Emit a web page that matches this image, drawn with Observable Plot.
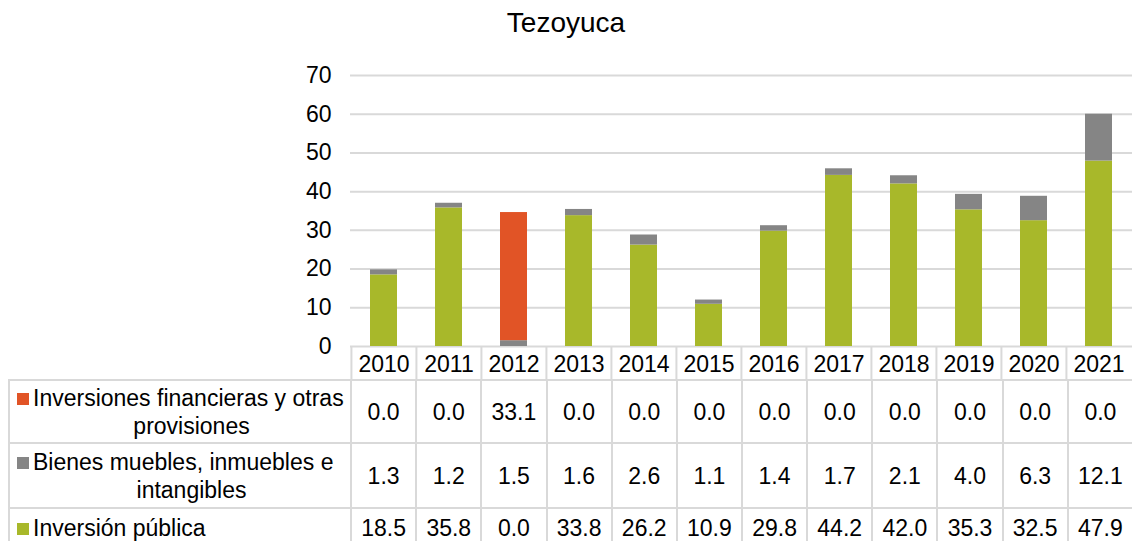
<!DOCTYPE html>
<html>
<head>
<meta charset="utf-8">
<script src="https://cdn.jsdelivr.net/npm/d3@7"></script>
<script src="https://cdn.jsdelivr.net/npm/@observablehq/plot@0.6"></script>
<style>
  html, body { margin: 0; padding: 0; background: #fff; }
  body { width: 1132px; height: 541px; overflow: hidden; position: relative;
         font-family: "Liberation Sans", Arial, sans-serif; color: #000; }
  #title { height: 36px; padding-top: 9px; font-size: 28px; line-height: 28px; text-align: center; }
  #chart { position: absolute; left: 0; top: 45px; }
  #tbl { position: absolute; left: 8px; top: 379px; border-collapse: collapse; table-layout: fixed;
         font-size: 23px; line-height: 28px; }
  #tbl td { border: 2px solid #d9d9d9; padding: 0; text-align: center; vertical-align: middle; white-space: nowrap; overflow: hidden; }
  .lab { display: flex; align-items: flex-start; }
  .sw { width: 12px; height: 12px; flex: none; margin: 9px 4px 0 7px; }
  .txt { flex: 1; }
  .txt div:first-child { text-align: left; }
  .txt div { text-align: center; }
</style>
</head>
<body>
<div id="title">Tezoyuca</div>
<div id="chart"></div>
<table id="tbl"></table>
<script>
// ---- data ----
const years = ["2010","2011","2012","2013","2014","2015","2016","2017","2018","2019","2020","2021"];
const seriesNames = ["Inversiones financieras y otras provisiones", "Bienes muebles, inmuebles e intangibles", "Inversión pública"];
const seriesLines = [["Inversiones financieras y otras", "provisiones"], ["Bienes muebles, inmuebles e", "intangibles"], ["Inversión pública"]];
const inversionesFinancieras = [0.0, 0.0, 33.1, 0.0, 0.0, 0.0, 0.0, 0.0, 0.0, 0.0, 0.0, 0.0];
const bienesMuebles = [1.3, 1.2, 1.5, 1.6, 2.6, 1.1, 1.4, 1.7, 2.1, 4.0, 6.3, 12.1];
const inversionPublica = [18.5, 35.8, 0.0, 33.8, 26.2, 10.9, 29.8, 44.2, 42.0, 35.3, 32.5, 47.9];
const yTicks = [0, 10, 20, 30, 40, 50, 60, 70];
const seriesColors = ["#E15426", "#858585", "#A8B82A"];

const seriesValues = [inversionesFinancieras, bienesMuebles, inversionPublica];

// long format, stacked bottom-up: Inversión pública, Bienes, Inversiones financieras
const data = [];
for (const s of [2, 1, 0]) {
  years.forEach((yr, i) => data.push({year: yr, series: seriesNames[s], value: seriesValues[s][i]}));
}

const W = 1132, ML = 350, MR = 0;
const step = (W - ML - MR) / years.length;

const chart = Plot.plot({
  width: W, height: 336,
  marginLeft: ML, marginRight: MR, marginTop: 30, marginBottom: 35,
  style: {fontFamily: '"Liberation Sans", Arial, sans-serif', fontSize: "23px", color: "#000", background: "transparent", overflow: "visible"},
  x: {domain: years, paddingInner: 0.59, paddingOuter: 0.295, label: null},
  y: {domain: [0, 70], label: null},
  color: {domain: seriesNames, range: seriesColors},
  marks: [
    Plot.gridY(yTicks, {stroke: "#d9d9d9", strokeOpacity: 1, strokeWidth: 2}),
    Plot.barY(data, {x: "year", y: "value", fill: "series"}),
    Plot.axisY(yTicks, {tickSize: 0, tickPadding: 19, fill: "#000"}),
    Plot.axisX({tickSize: 0, tickPadding: 9, fill: "#000"}),
    Plot.axisX({tickSize: 35, fill: "none", stroke: "#d9d9d9", strokeWidth: 2, dx: -step / 2})
  ]
});
document.getElementById("chart").appendChild(chart);

// ---- data table (legend + values) ----
const tbl = document.getElementById("tbl");
const cg = document.createElement("colgroup");
const c0 = document.createElement("col"); c0.style.width = (ML - 8) + "px"; cg.appendChild(c0);
years.forEach(() => { const c = document.createElement("col"); c.style.width = step + "px"; cg.appendChild(c); });
tbl.appendChild(cg);
tbl.style.width = (ML - 8 + step * years.length + 2) + "px";
const rowHeights = [63, 65, 40];
seriesNames.forEach((name, s) => {
  const tr = document.createElement("tr");
  tr.style.height = rowHeights[s] + "px";
  const td = document.createElement("td");
  const lab = document.createElement("div"); lab.className = "lab";
  const sw = document.createElement("span"); sw.className = "sw"; sw.style.background = seriesColors[s];
  const tx = document.createElement("div"); tx.className = "txt";
  seriesLines[s].forEach(line => { const d = document.createElement("div"); d.textContent = line; tx.appendChild(d); });
  lab.appendChild(sw); lab.appendChild(tx); td.appendChild(lab);
  tr.appendChild(td);
  seriesValues[s].forEach(v => {
    const c = document.createElement("td");
    c.textContent = v.toFixed(1);
    tr.appendChild(c);
  });
  tbl.appendChild(tr);
});
</script>
</body>
</html>
